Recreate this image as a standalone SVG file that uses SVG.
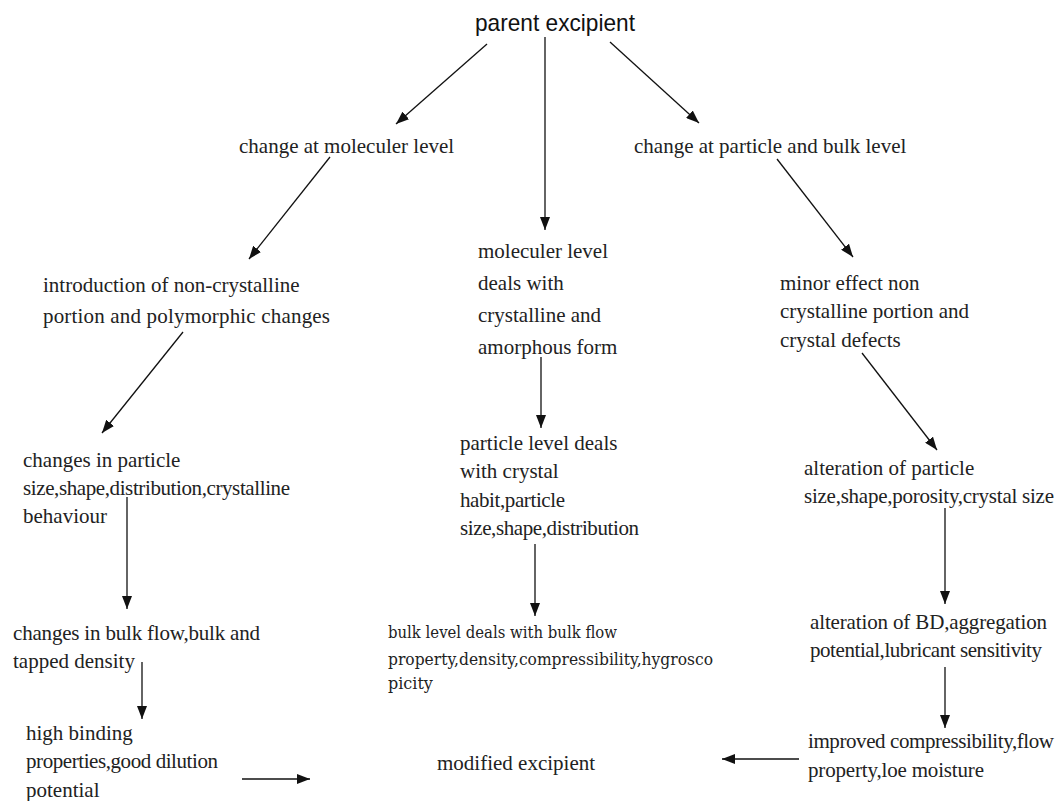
<svg xmlns="http://www.w3.org/2000/svg" width="1062" height="801" viewBox="0 0 1062 801">
<defs>
<marker id="ah" markerUnits="userSpaceOnUse" markerWidth="13" markerHeight="10" refX="13" refY="5" orient="auto">
<path d="M0,0 L13,5 L0,10 z" fill="#111"/>
</marker>
<style>
.t{font-family:"Liberation Serif","Times New Roman",serif;font-size:21px;fill:#222}
.s{font-family:"Liberation Sans",Arial,sans-serif;font-size:24px;fill:#111}
.b{font-family:"DejaVu Serif",serif;font-size:16px;fill:#222}
.c line{stroke:#111;stroke-width:1.3;marker-end:url(#ah)}
</style>
</defs>
<rect width="1062" height="801" fill="#fff"/>
<g id="connectors" class="c">
<line x1="487" y1="44" x2="396" y2="124"/>
<line x1="545" y1="37" x2="545" y2="230"/>
<line x1="610" y1="42" x2="699" y2="123"/>
<line x1="330" y1="157" x2="249" y2="259"/>
<line x1="777" y1="159" x2="853" y2="257"/>
<line x1="183" y1="332" x2="102" y2="433"/>
<line x1="541" y1="357" x2="541" y2="428"/>
<line x1="862" y1="353" x2="937" y2="450"/>
<line x1="127" y1="497" x2="127" y2="609"/>
<line x1="535" y1="544" x2="535" y2="616"/>
<line x1="945" y1="508" x2="945" y2="604"/>
<line x1="142" y1="662" x2="142" y2="719"/>
<line x1="945" y1="667" x2="945" y2="728"/>
<line x1="242" y1="779" x2="310" y2="779"/>
<line x1="799" y1="759" x2="722" y2="759"/>
</g>
<g id="n-parent"><text class="s" x="475" y="31" textLength="160" lengthAdjust="spacingAndGlyphs">parent excipient</text></g>
<g id="n-molecular"><text class="t" x="239" y="153">change at moleculer level</text></g>
<g id="n-particle-bulk"><text class="t" x="634" y="153">change at particle and bulk level</text></g>
<g id="n-intro"><text class="t" x="43" y="292">introduction of non-crystalline</text><text class="t" x="43" y="323" textLength="287">portion and polymorphic changes</text></g>
<g id="n-mol-deals"><text class="t" x="478" y="258">moleculer level</text><text class="t" x="478" y="290">deals with</text><text class="t" x="478" y="322">crystalline and</text><text class="t" x="478" y="354">amorphous form</text></g>
<g id="n-minor"><text class="t" x="780" y="290">minor effect non</text><text class="t" x="780" y="318">crystalline portion and</text><text class="t" x="780" y="347">crystal defects</text></g>
<g id="n-changes-particle"><text class="t" x="23" y="467">changes in particle</text><text class="t" x="23" y="495" textLength="267">size,shape,distribution,crystalline</text><text class="t" x="23" y="523">behaviour</text></g>
<g id="n-particle-level"><text class="t" x="460" y="450">particle level deals</text><text class="t" x="460" y="478">with crystal</text><text class="t" x="460" y="507" textLength="105">habit,particle</text><text class="t" x="460" y="535" textLength="179">size,shape,distribution</text></g>
<g id="n-alter-particle"><text class="t" x="804" y="475">alteration of particle</text><text class="t" x="804" y="503" textLength="250">size,shape,porosity,crystal size</text></g>
<g id="n-bulk-flow"><text class="t" x="13" y="640" textLength="247">changes in bulk flow,bulk and</text><text class="t" x="13" y="668">tapped density</text></g>
<g id="n-bulk-level"><text class="b" x="388" y="638" textLength="229" lengthAdjust="spacingAndGlyphs">bulk level deals with bulk flow</text><text class="b" x="388" y="665" textLength="325" lengthAdjust="spacingAndGlyphs">property,density,compressibility,hygrosco</text><text class="b" x="388" y="689">picity</text></g>
<g id="n-alter-bd"><text class="t" x="810" y="629" textLength="237">alteration of BD,aggregation</text><text class="t" x="810" y="657" textLength="232">potential,lubricant sensitivity</text></g>
<g id="n-high-binding"><text class="t" x="26" y="740">high binding</text><text class="t" x="26" y="768" textLength="192">properties,good dilution</text><text class="t" x="26" y="797">potential</text></g>
<g id="n-modified"><text class="t" x="437" y="770">modified excipient</text></g>
<g id="n-improved"><text class="t" x="808" y="748" textLength="246">improved compressibility,flow</text><text class="t" x="808" y="777" textLength="176">property,loe moisture</text></g>
</svg>
